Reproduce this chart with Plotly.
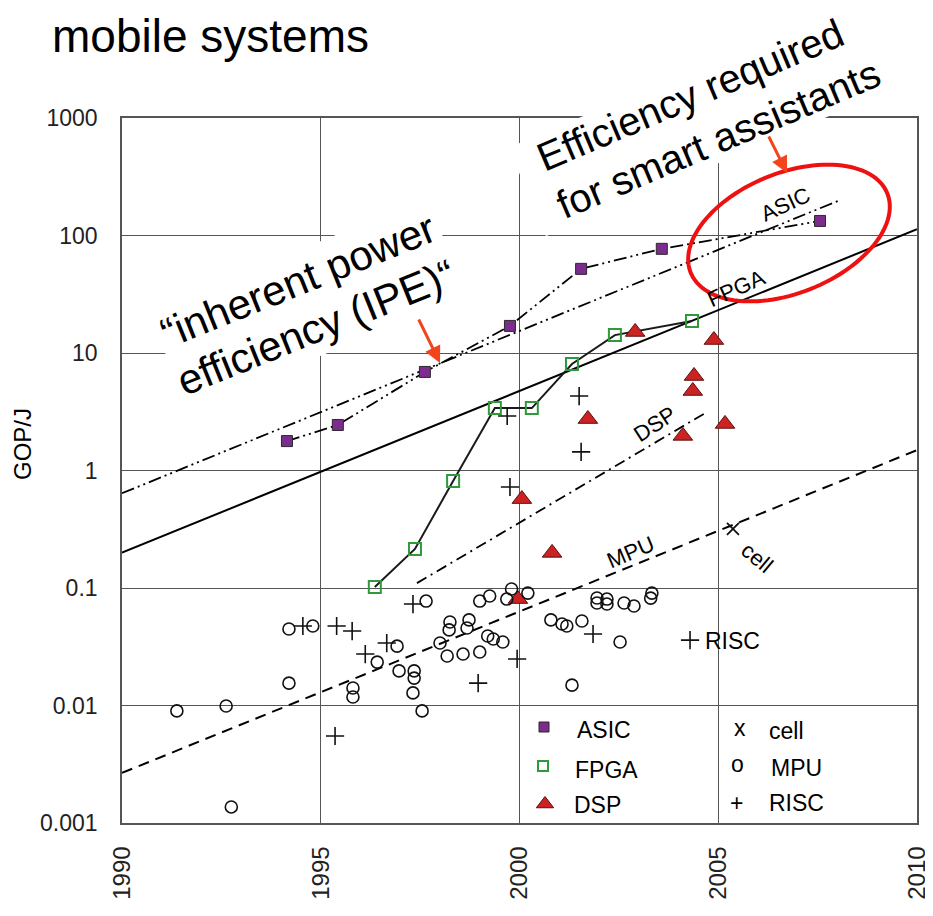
import numpy as np
import plotly.graph_objects as go

# ---------------- data ----------------
asic_year = [1994.15, 1995.43, 1997.62, 1999.76, 2001.55, 2003.58, 2007.56]
asic_gopj = [1.78, 2.44, 6.9, 17, 52, 77, 133]

fpga_year = [1996.36, 1997.37, 1998.33, 1999.38, 2000.31, 2001.32, 2002.40, 2004.34]
fpga_gopj = [0.102, 0.215, 0.814, 3.4, 3.4, 8.06, 14.2, 18.7]

dsp_year = [2002.91, 2004.89, 2004.39, 2004.36, 2001.72, 2004.11, 2005.17, 2000.06, 2000.82, 1999.96]
dsp_gopj = [15.1, 12.9, 6.37, 4.75, 2.74, 1.97, 2.49, 0.571, 0.199, 0.0805]

cell_year = [2005.37]
cell_gopj = [0.318]

risc_year = [1994.55, 1995.40, 1995.79, 1996.66, 1996.12, 1995.36, 1997.32, 1998.96,
             1999.94, 2001.85, 2004.29, 2001.50, 2001.55, 1999.69, 1999.76]
risc_gopj = [0.0475, 0.0475, 0.043, 0.034, 0.0274, 0.0055, 0.073, 0.0155,
             0.0249, 0.0406, 0.036, 4.3, 1.44, 2.91, 0.724]

mpu_year = [1994.20, 1994.80, 1996.92, 1996.42, 1994.20, 1991.38, 1992.62, 1992.75,
            1995.81, 1995.81, 1997.65, 1996.97, 1997.35, 1997.35, 1997.32, 1997.55,
            1998.00, 1998.25, 1998.23, 1998.18, 1998.73, 1998.68, 1998.58, 1999.00,
            1999.20, 1999.34, 1999.58, 1999.00, 1999.25, 1999.80, 1999.68, 2000.21,
            2000.79, 2001.07, 2001.19, 2001.57, 2002.53, 2001.32, 2001.95, 2001.95,
            2002.20, 2002.20, 2002.63, 2002.88, 2003.33, 2003.30]
mpu_gopj = [0.0448, 0.0475, 0.032, 0.0234, 0.0155, 0.009, 0.0099, 0.00137,
            0.0141, 0.0118, 0.0774, 0.0197, 0.0197, 0.0171, 0.0128, 0.009,
            0.034, 0.0514, 0.044, 0.0264, 0.0535, 0.0457, 0.0274, 0.0285,
            0.039, 0.0368, 0.0347, 0.0774, 0.0855, 0.098, 0.0805, 0.0905,
            0.0535, 0.0494, 0.0475, 0.0524, 0.0347, 0.0149, 0.0822, 0.0745,
            0.0805, 0.073, 0.0745, 0.0703, 0.0905, 0.082]

# trend lines (start / end)
asic_trend_year = [1990, 2008.06]
asic_trend_gopj = [0.64, 200]
fpga_trend_year = [1990, 2010]
fpga_trend_gopj = [0.2, 113]
dsp_trend_year = [1997.42, 2004.72]
dsp_trend_gopj = [0.11, 3.15]
mpu_trend_year = [1990, 2010]
mpu_trend_gopj = [0.00267, 1.49]

x_ticks = [1990, 1995, 2000, 2005, 2010]
y_ticks = [0.001, 0.01, 0.1, 1, 10, 100, 1000]
y_ticktext = ["0.001", "0.01", "0.1", "1", "10", "100", "1000"]

legend_left = ["ASIC", "FPGA", "DSP"]
legend_right = ["cell", "MPU", "RISC"]
legend_right_glyph = ["x", "o", "+"]

# ---------------- layout geometry ----------------
W, H = 933, 916
OFF = 8                      # page body margin
X0, X1, Y0, Y1 = 122, 917, 118, 823   # plot area on screen
PW, PH = X1 - X0, Y1 - Y0
ML, MT = X0 - OFF, Y0 - OFF
MR, MB = W - (X1 - OFF), H - (Y1 - OFF)
FONT = "Liberation Sans, Arial, Helvetica, sans-serif"

def pxx(p):
    return (p - X0) / PW

def pxy(p):
    return (Y1 - p) / PH

PURPLE = "#7b2c8c"
GREEN = "#2f9a3c"
RED = "#cc2222"
ORANGE = "#f2451e"

fig = go.Figure()

def dash_line(xs, ys, dash, width=1.8):
    fig.add_trace(go.Scatter(x=xs, y=ys, mode="lines",
                             line=dict(color="black", width=width, dash=dash),
                             hoverinfo="skip", showlegend=False))

DDD = "13px,4px,2px,4px,2px,4px"
dash_line(asic_trend_year, asic_trend_gopj, DDD)
dash_line(fpga_trend_year, fpga_trend_gopj, "solid", 2)
dash_line(dsp_trend_year, dsp_trend_gopj, "11px,5px,2px,5px")
dash_line(mpu_trend_year, mpu_trend_gopj, "11px,7px", 2)

fig.add_trace(go.Scatter(x=asic_year, y=asic_gopj, mode="lines+markers", name="ASIC",
                         line=dict(color="black", width=1.8, dash=DDD),
                         marker=dict(symbol="square", size=11, color=PURPLE,
                                     line=dict(color="#2a2a2a", width=1)),
                         showlegend=False))
fig.add_trace(go.Scatter(x=fpga_year, y=fpga_gopj, mode="lines+markers", name="FPGA",
                         line=dict(color="#1a1a1a", width=2),
                         marker=dict(symbol="square-open", size=12, color=GREEN,
                                     line=dict(color=GREEN, width=2)),
                         showlegend=False))
fig.add_trace(go.Scatter(x=dsp_year, y=dsp_gopj, mode="markers", name="DSP",
                         marker=dict(symbol="triangle-up", size=17, color=RED,
                                     line=dict(color="#5a1010", width=1)),
                         showlegend=False))
fig.add_trace(go.Scatter(x=mpu_year, y=mpu_gopj, mode="markers", name="MPU",
                         marker=dict(symbol="circle-open", size=12, color="#111",
                                     line=dict(color="#111", width=1.6)),
                         showlegend=False))
fig.add_trace(go.Scatter(x=risc_year, y=risc_gopj, mode="markers", name="RISC",
                         marker=dict(symbol="cross-thin-open", size=13, color="#111",
                                     line=dict(color="#111", width=1.6)),
                         showlegend=False))
fig.add_trace(go.Scatter(x=cell_year, y=cell_gopj, mode="markers", name="cell",
                         marker=dict(symbol="x-thin-open", size=12, color="#111",
                                     line=dict(color="#111", width=1.8)),
                         showlegend=False))

# legend keys on a pixel overlay axis
key_px = [(544, 727), (543, 766), (545, 804)]
key_sym = ["square", "square-open", "triangle-up"]
key_col = [PURPLE, GREEN, RED]
key_line = ["#2a2a2a", GREEN, "#5a1010"]
key_size = [10, 10, 15]
for (kx, ky), s, c, lc, sz in zip(key_px, key_sym, key_col, key_line, key_size):
    fig.add_trace(go.Scatter(x=[kx - X0], y=[Y1 - ky], xaxis="x2", yaxis="y2",
                             mode="markers", hoverinfo="skip", showlegend=False,
                             marker=dict(symbol=s, size=sz, color=c,
                                         line=dict(color=lc, width=2 if s == "square-open" else 1))))

ann = []

def text(x, y, t, size, angle=0, xanchor="center", yanchor="middle", bg=None, color="black"):
    d = dict(x=pxx(x), y=pxy(y), xref="paper", yref="paper", text=t, showarrow=False,
             textangle=angle, xanchor=xanchor, yanchor=yanchor,
             font=dict(family=FONT, size=size, color=color))
    if bg:
        d.update(bgcolor=bg, borderpad=4)
    ann.append(d)

# title and axis title
text(50, OFF, "mobile systems", 46, xanchor="left", yanchor="top")
text(22, 444, "GOP/J", 24, angle=-90)

# big rotated annotations
text(298, 280, "\u201cinherent power", 42, angle=-22, bg="white")
text(316, 327, "efficiency (IPE)\u201c", 42, angle=-22, bg="white")
text(690, 95, "Efficiency required", 40, angle=-23)
text(718, 139, "for smart assistants", 40, angle=-23)

# trend labels
text(785, 205, "ASIC", 22, angle=-25)
text(736, 288, "FPGA", 22, angle=-24)
text(654, 424, "DSP", 22, angle=-33)
text(630, 552, "MPU", 22, angle=-23)
text(757, 557, "cell", 22, angle=40)
text(703, 641, "RISC", 23, xanchor="left")

# legend text
for name, (lx, ly) in zip(legend_left, [(575, 730), (573, 770), (572, 805)]):
    text(lx, ly, name, 23, xanchor="left")
for g, name, (gx, gy), (lx, ly) in zip(legend_right_glyph, legend_right,
                                       [(740, 728), (737, 764), (736, 803)],
                                       [(767, 731), (769, 768), (767, 803)]):
    text(gx, gy, g, 23)
    text(lx, ly, name, 23, xanchor="left")

# red arrows
for (hx, hy), (tx, ty) in [((440, 363), (418, 318)), ((787, 173), (768, 135))]:
    ann.append(dict(x=pxx(hx), y=pxy(hy), xref="paper", yref="paper", text="",
                    showarrow=True, ax=tx - hx, ay=ty - hy, arrowhead=2,
                    arrowsize=1.1, arrowwidth=3, arrowcolor=ORANGE))

def path_of(xs, ys):
    return "M " + " L ".join(f"{pxx(u):.5f},{pxy(v):.5f}" for u, v in zip(xs, ys)) + " Z"

shapes = []

# white rotated box behind the "Efficiency required" block (hides grid and frame)
bc, bl, bh, ang = (704, 117), 192, 48, np.deg2rad(23)
u = np.array([np.cos(ang), -np.sin(ang)])
v = np.array([np.sin(ang), np.cos(ang)])
corners = [np.array(bc) + sl * bl * u + sh * bh * v for sl, sh in [(-1, -1), (1, -1), (1, 1), (-1, 1)]]
shapes.append(dict(type="path", path=path_of([c[0] for c in corners], [c[1] for c in corners]),
                   xref="paper", yref="paper", fillcolor="white", line=dict(width=0),
                   layer="above"))

# red ellipse
cx, cy, a, b, th = 789, 233, 106, 60, np.deg2rad(22)
t = np.linspace(0, 2 * np.pi, 120)
ex = cx + a * np.cos(t) * np.cos(th) + b * np.sin(t) * np.sin(th)
ey = cy - a * np.cos(t) * np.sin(th) + b * np.sin(t) * np.cos(th)
shapes.append(dict(type="path", path=path_of(ex, ey), xref="paper", yref="paper",
                   line=dict(color="#ee1111", width=4), layer="above"))

fig.update_layout(
    width=W, height=H, margin=dict(l=ML, r=MR, t=MT, b=MB, autoexpand=False),
    paper_bgcolor="white", plot_bgcolor="white",
    font=dict(family=FONT, color="#222"),
    showlegend=False,
    annotations=ann, shapes=shapes,
    xaxis=dict(range=[1990, 2010], tickvals=x_ticks, tickangle=-90,
               tickfont=dict(family=FONT, size=24, color="#222"),
               showgrid=True, gridcolor="#555", gridwidth=1.3,
               showline=True, linecolor="#555", linewidth=1.6, mirror=True,
               zeroline=False, ticks="", ticklabelstandoff=12, automargin=False),
    yaxis=dict(type="log", range=[-3, 3], tickvals=y_ticks, ticktext=y_ticktext,
               tickfont=dict(family=FONT, size=23, color="#222"),
               showgrid=True, gridcolor="#555", gridwidth=1.3,
               showline=True, linecolor="#555", linewidth=1.6, mirror=True,
               zeroline=False, ticks="", ticklabelstandoff=18, automargin=False),
    xaxis2=dict(range=[0, PW], overlaying="x", anchor="y2", visible=False),
    yaxis2=dict(range=[0, PH], overlaying="y", anchor="x2", visible=False),
)

fig.write_html("out.html")
